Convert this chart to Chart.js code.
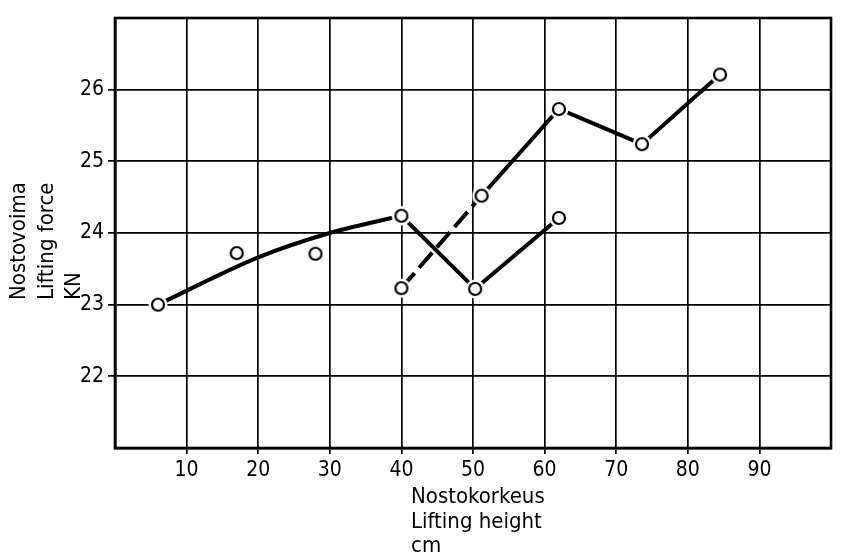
<!DOCTYPE html>
<html>
<head>
    <title>Nostovoima / Lifting force</title>
    <style>
        body {
            margin: 0;
            padding: 0;
            background-color: #fff;
        }
        canvas {
            display: block;
        }
    </style>
</head>
<body>
    <canvas id="liftChart" width="841" height="553"></canvas>

    <script src="https://cdn.jsdelivr.net/npm/chart.js"></script>
    <script>
        // measured points, first run (only markers)
        const measuredX = [6, 17, 28, 40];
        const measuredY = [23.0, 23.72, 23.71, 24.24];
        // hand drawn fit curve through the first run
        const fitX = [6, 20, 30, 40];
        const fitY = [23.0, 23.66, 24.0, 24.24];
        // upper broken line
        const upperX = [40, 51.2, 62, 73.6, 84.5];
        const upperY = [23.23, 24.52, 25.73, 25.24, 26.21];
        // lower zig-zag
        const lowerX = [40, 50.3, 62];
        const lowerY = [24.24, 23.22, 24.21];

        const xTicks = [10, 20, 30, 40, 50, 60, 70, 80, 90];
        const yTicks = [22, 23, 24, 25, 26];

        const xTitle = ['Nostokorkeus', 'Lifting height', 'cm'];
        const yTitle = ['Nostovoima', 'Lifting force', 'KN'];

        const FONT = '"DejaVu Sans Condensed", "Liberation Sans Narrow", "DejaVu Sans", sans-serif';

        function toPoints(xs, ys) {
            return xs.map((x, i) => ({ x: x, y: ys[i] }));
        }

        // open circle with a white ring so the lines stop short of it
        function ringMarker() {
            const c = document.createElement('canvas');
            c.width = 22;
            c.height = 22;
            const g = c.getContext('2d');
            g.fillStyle = '#fff';
            g.beginPath();
            g.arc(11, 11, 9.5, 0, Math.PI * 2);
            g.fill();
            g.strokeStyle = '#000';
            g.lineWidth = 2.2;
            g.beginPath();
            g.arc(11, 11, 6, 0, Math.PI * 2);
            g.stroke();
            return c;
        }
        const marker = ringMarker();

        const frameAndTitles = {
            id: 'frameAndTitles',
            afterDraw(chart) {
                const ctx = chart.ctx;
                const a = chart.chartArea;
                ctx.save();
                ctx.strokeStyle = '#000';
                ctx.lineWidth = 2.6;
                ctx.strokeRect(a.left, a.top, a.right - a.left, a.bottom - a.top);

                ctx.fillStyle = '#000';
                ctx.font = '22px ' + FONT;
                ctx.textAlign = 'left';
                ctx.textBaseline = 'alphabetic';
                xTitle.forEach((t, i) => ctx.fillText(t, 411, 503 + i * 24.5));

                ctx.translate(0, 300);
                ctx.rotate(-Math.PI / 2);
                yTitle.forEach((t, i) => ctx.fillText(t, 0, 25 + i * 27.5));
                ctx.restore();
            }
        };

        const lineStyle = {
            showLine: true,
            borderColor: '#000',
            borderWidth: 4,
            fill: false,
            pointStyle: marker,
            pointRadius: 6,
            pointHoverRadius: 6
        };

        new Chart(document.getElementById('liftChart'), {
            type: 'scatter',
            data: {
                datasets: [
                    Object.assign({}, lineStyle, {
                        label: 'measured',
                        data: toPoints(measuredX, measuredY),
                        showLine: false,
                        order: 1
                    }),
                    Object.assign({}, lineStyle, {
                        label: 'lower',
                        data: toPoints(lowerX, lowerY),
                        order: 2
                    }),
                    Object.assign({}, lineStyle, {
                        label: 'upper',
                        data: toPoints(upperX, upperY),
                        segment: {
                            borderDash: ctx => ctx.p0DataIndex === 0 ? [20, 7] : undefined
                        },
                        order: 3
                    }),
                    {
                        label: 'fit',
                        data: toPoints(fitX, fitY),
                        showLine: true,
                        borderColor: '#000',
                        borderWidth: 4,
                        cubicInterpolationMode: 'monotone',
                        pointRadius: 0,
                        order: 4
                    }
                ]
            },
            options: {
                responsive: false,
                animation: false,
                layout: {
                    padding: { top: 18, right: 4, bottom: 0, left: 0 }
                },
                plugins: {
                    legend: { display: false },
                    tooltip: { enabled: false }
                },
                scales: {
                    x: {
                        type: 'linear',
                        min: 0,
                        max: 100,
                        afterFit: s => { s.height = 105; },
                        afterBuildTicks: s => {
                            s.ticks = [0].concat(xTicks, [100]).map(v => ({ value: v }));
                        },
                        ticks: {
                            stepSize: 10,
                            color: '#000',
                            padding: 4,
                            maxRotation: 0,
                            font: { family: FONT, size: 21 },
                            callback: v => xTicks.includes(v) ? String(v) : ''
                        },
                        grid: {
                            color: '#000',
                            lineWidth: 1.7,
                            tickLength: 6,
                            tickColor: c => (c.tick && xTicks.includes(c.tick.value)) ? '#000' : 'rgba(0,0,0,0)'
                        },
                        border: { color: '#000', width: 2.6 }
                    },
                    y: {
                        type: 'linear',
                        min: 21,
                        max: 27,
                        afterFit: s => { s.width = 115; },
                        afterBuildTicks: s => {
                            s.ticks = [21].concat(yTicks, [27]).map(v => ({ value: v }));
                        },
                        ticks: {
                            stepSize: 1,
                            color: '#000',
                            padding: 4,
                            font: { family: FONT, size: 21 },
                            callback: v => yTicks.includes(v) ? String(v) : ''
                        },
                        grid: {
                            color: '#000',
                            lineWidth: 1.7,
                            tickLength: 7,
                            tickColor: c => (c.tick && yTicks.includes(c.tick.value)) ? '#000' : 'rgba(0,0,0,0)'
                        },
                        border: { color: '#000', width: 2.6 }
                    }
                }
            },
            plugins: [frameAndTitles]
        });
    </script>
</body>
</html>
